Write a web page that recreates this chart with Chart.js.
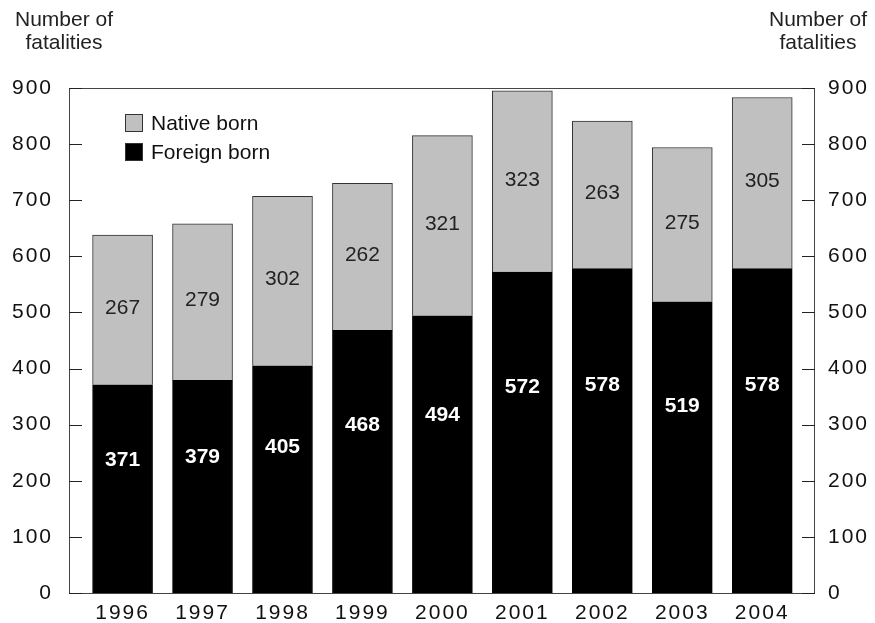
<!DOCTYPE html>
<html>
<head>
<meta charset="utf-8">
<script src="https://cdn.jsdelivr.net/npm/chart.js@4.4.0/dist/chart.umd.min.js"></script>
<style>
html, body { margin: 0; padding: 0; background: #fff; }
#wrap { width: 875px; height: 623px; }
</style>
</head>
<body>
<div id="wrap"><canvas id="grafica" width="875" height="623"></canvas></div>
<script>
// datos
const years = ['1996', '1997', '1998', '1999', '2000', '2001', '2002', '2003', '2004'];
const foreignBorn = [371, 379, 405, 468, 494, 572, 578, 519, 578];
const nativeBorn = [267, 279, 302, 262, 321, 323, 263, 275, 305];
const yTicks = [0, 100, 200, 300, 400, 500, 600, 700, 800, 900];
const axisTitle = ['Number of', 'fatalities'];

const FONT = '"Liberation Sans", Arial, Helvetica, sans-serif';
const ctx = document.getElementById('grafica').getContext('2d');

// etiquetas de valores dentro de las barras
const barLabels = {
    id: 'barLabels',
    beforeDraw(chart) {
        chart.ctx.letterSpacing = '2px';
    },
    beforeDatasetsDraw(chart) {
        chart.ctx.letterSpacing = '0px';
    },
    afterDatasetsDraw(chart) {
        const c = chart.ctx;
        const y = chart.scales.y;
        c.save();
        c.textAlign = 'center';
        c.textBaseline = 'middle';
        chart.getDatasetMeta(0).data.forEach((bar, i) => {
            c.font = 'bold 21px ' + FONT;
            c.fillStyle = '#fff';
            c.fillText(foreignBorn[i], bar.x, y.getPixelForValue(foreignBorn[i] * 0.64));
        });
        chart.getDatasetMeta(1).data.forEach((bar, i) => {
            c.font = '21px ' + FONT;
            c.fillStyle = '#222';
            c.fillText(nativeBorn[i], bar.x, y.getPixelForValue(foreignBorn[i] + nativeBorn[i] / 2 + 3));
        });
        c.restore();
    }
};

// marco, marcas de eje, titulos y leyenda
const marco = {
    id: 'marco',
    afterDraw(chart) {
        const c = chart.ctx;
        const { left, right, top, bottom } = chart.chartArea;
        const y = chart.scales.y;
        c.save();
        c.letterSpacing = '0px';
        c.strokeStyle = '#444';
        c.lineWidth = 1;
        c.strokeRect(left + 0.5, top + 0.5, right - left - 1, bottom - top);

        c.strokeStyle = '#222';
        yTicks.forEach(v => {
            const py = Math.round(y.getPixelForValue(v)) + 0.5;
            c.beginPath();
            c.moveTo(left, py); c.lineTo(left + 13, py);
            c.moveTo(right - 13, py); c.lineTo(right, py);
            c.stroke();
        });

        c.font = '21px ' + FONT;
        c.fillStyle = '#222';
        c.textAlign = 'center';
        c.textBaseline = 'middle';
        axisTitle.forEach((t, i) => {
            c.fillText(t, 64, 20 + i * 23);
            c.fillText(t, 818, 20 + i * 23);
        });

        // leyenda (orden invertido)
        const items = [chart.data.datasets[1], chart.data.datasets[0]];
        c.textAlign = 'left';
        items.forEach((ds, i) => {
            const bx = left + 56;
            const by = top + 26 + i * 29;
            c.fillStyle = ds.backgroundColor;
            c.fillRect(bx, by, 18, 18);
            c.strokeStyle = '#333';
            c.strokeRect(bx + 0.5, by + 0.5, 17, 17);
            c.fillStyle = '#111';
            c.fillText(ds.label, bx + 26, by + 10);
        });
        c.restore();
    }
};

new Chart(ctx, {
    type: 'bar',
    data: {
        datasets: [{
            label: 'Foreign born',
            data: foreignBorn.map((v, i) => ({ x: i, y: v })),
            backgroundColor: '#000',
            borderColor: '#000',
            borderWidth: 1,
            barThickness: 60
        }, {
            label: 'Native born',
            data: nativeBorn.map((v, i) => ({ x: i, y: v })),
            backgroundColor: '#c0c0c0',
            borderColor: '#333',
            borderWidth: 1,
            barThickness: 60
        }]
    },
    options: {
        responsive: false,
        devicePixelRatio: 1,
        animation: false,
        layout: { padding: { top: 88 } },
        plugins: {
            legend: { display: false },
            tooltip: { enabled: false }
        },
        scales: {
            x: {
                type: 'linear',
                stacked: true,
                offset: false,
                min: -0.67,
                max: 8.66,
                grid: { display: false, drawTicks: false },
                border: { display: false },
                afterBuildTicks: s => { s.ticks = years.map((_, i) => ({ value: i })); },
                afterFit: s => { s.height = 30; },
                ticks: {
                    autoSkip: false,
                    maxRotation: 0,
                    padding: 8,
                    color: '#111',
                    font: { family: FONT, size: 21 },
                    callback: v => years[v]
                }
            },
            y: {
                stacked: true,
                position: 'left',
                min: 0,
                max: 900,
                grid: { display: false, drawTicks: false },
                border: { display: false },
                afterBuildTicks: s => { s.ticks = yTicks.map(v => ({ value: v })); },
                afterFit: s => { s.width = 69; },
                ticks: { padding: 16, color: '#111', font: { family: FONT, size: 21 } }
            },
            y2: {
                position: 'right',
                min: 0,
                max: 900,
                grid: { display: false, drawTicks: false },
                border: { display: false },
                afterBuildTicks: s => { s.ticks = yTicks.map(v => ({ value: v })); },
                afterFit: s => { s.width = 60; },
                ticks: { padding: 13, color: '#111', font: { family: FONT, size: 21 } }
            }
        }
    },
    plugins: [barLabels, marco]
});
</script>
</body>
</html>
